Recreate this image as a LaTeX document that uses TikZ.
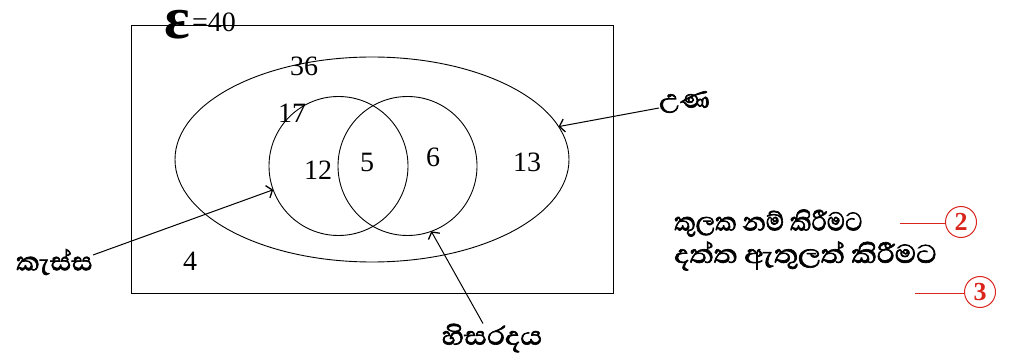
\documentclass[tikz,border=0pt]{standalone}
\usepackage{fontspec}
\setmainfont{Liberation Serif}
\newfontfamily\sinhfont[Script=Sinhala,FakeBold=2]{Abhaya Libre}
\usetikzlibrary{shapes.geometric,arrows.meta}
\definecolor{redc}{RGB}{218,37,29}
\tikzset{
  thin line/.style={line width=0.9pt},
  arr/.style={line width=1pt,-{Straight Barb[length=5pt,width=13pt,line width=1.3pt]}},
  num/.style={font=\fontsize{28}{30}\selectfont,inner sep=0pt},
  sl/.style={font=\sinhfont\fontsize{33}{35}\selectfont,inner sep=0pt},
  redline/.style={draw=redc,line width=1pt},
  mark circ/.style={circle,draw=redc,line width=1pt,text=redc,inner sep=0pt,minimum size=31pt,font=\bfseries\fontsize{26}{26}\selectfont}
}
\begin{document}
\begin{tikzpicture}[x=1pt,y=-1pt]
\useasboundingbox (0,0) rectangle (1011,363);
\node[draw,line width=1.4pt,inner sep=0pt,outer sep=0pt,minimum width=482pt,minimum height=268pt] (R) at (372.5,159.5) {};
\node[draw,thin line,ellipse,inner sep=0pt,outer sep=0pt,minimum width=394pt,minimum height=205pt] (U) at (372,159.5) {};
\node[draw,thin line,circle,inner sep=0pt,outer sep=0pt,minimum size=139pt] (C) at (338.5,166) {};
\node[draw,thin line,circle,inner sep=0pt,outer sep=0pt,minimum size=139pt] (H) at (407.5,166) {};
% universal set label
\node[inner sep=0pt,anchor=base,text height=28pt,text depth=0pt,font=\bfseries\fontsize{60}{60}\selectfont] (eps) at (177,39) {ε};
\node[inner sep=0pt,anchor=base west,font=\fontsize{28}{28}\selectfont] (eq) at (192,32) {=40};
% numbers
\node[num] (n36) at (304,66) {36};
\node[num] (n17) at (292,113) {17};
\node[num] (n12) at (318,170) {12};
\node[num] (n5) at (367,162) {5};
\node[num] (n6) at (433,157) {6};
\node[num] (n13) at (527,162) {13};
\node[num] (n4) at (190,261) {4};
% labels
\node[sl,anchor=west] (F) at (659,102) {උණ};
\node[sl,anchor=east] (K) at (93,262) {කැස්ස};
\node[sl,xscale=1.08,transform shape] (HL) at (492,338) {හිසරදය};
\draw[arr] ([yshift=-6pt]F.west) -- (U.10);
\draw[arr] ([yshift=7pt]K.east) -- (C.200);
\draw[arr] ([xshift=-9pt]HL.north) -- (H.290);
% right side notes
\node[sl,anchor=west,xscale=0.92,transform shape] (t1) at (674,223) {කුලක නම් කිරීමට};
\node[sl,anchor=west,xscale=1.08,transform shape] (t2) at (674,256) {දත්ත ඇතුලත් කිරීමට};
\node[mark circ] (m2) at (961,222) {2};
\node[mark circ] (m3) at (980,292) {3};
\coordinate (l2) at (900,224);
\coordinate (l3) at (915,293);
\draw[redline] (l2) -- (m2.west |- l2);
\draw[redline] (l3) -- (m3.west |- l3);
\end{tikzpicture}
\end{document}
